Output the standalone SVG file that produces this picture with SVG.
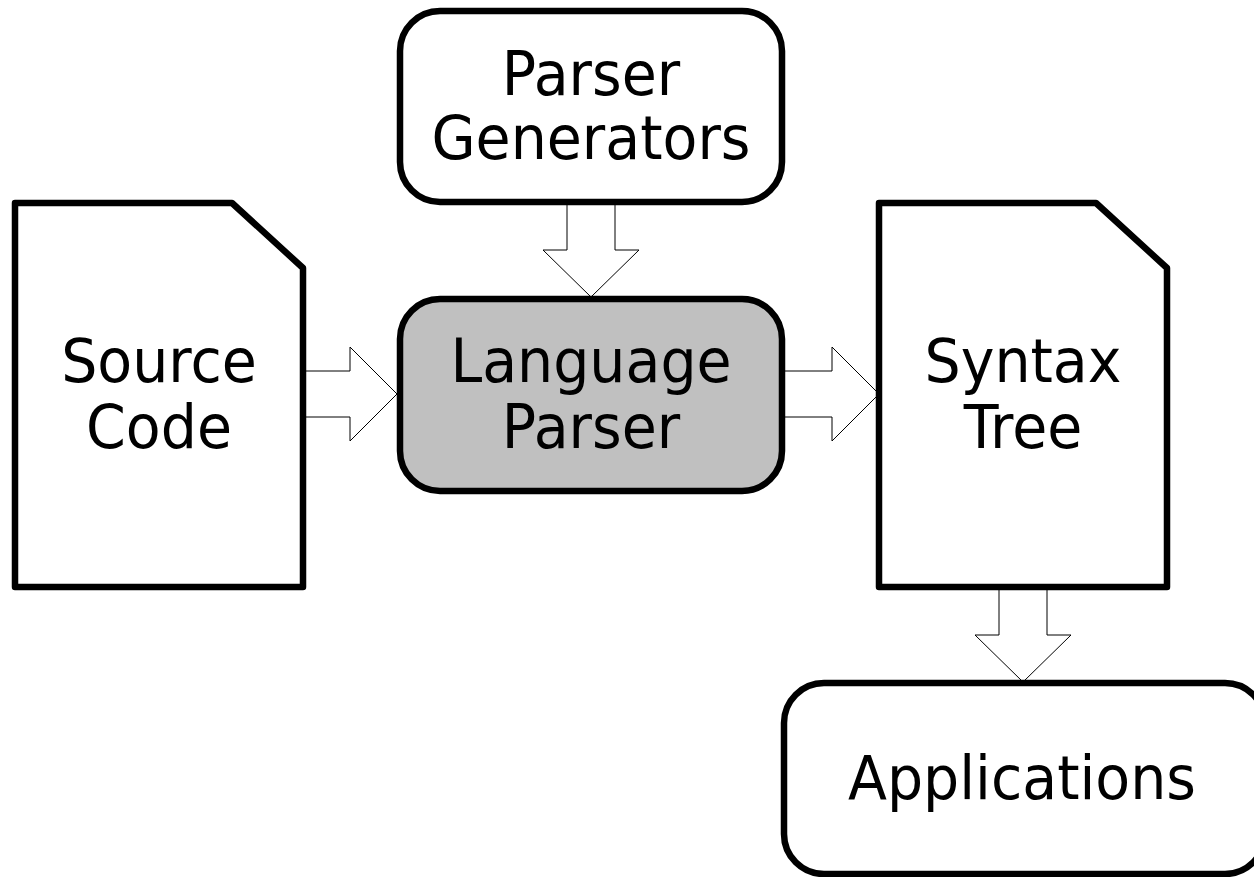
<svg xmlns="http://www.w3.org/2000/svg" width="1254" height="877" viewBox="0 0 1254 877">
<style>
.node{fill:#fff;stroke:#000;stroke-width:6.5;stroke-linejoin:round}
.gray{fill:#c0c0c0}
.arrow{fill:#fff;stroke:#000;stroke-width:1}
text{font-family:"DejaVu Sans",sans-serif;font-size:57px;fill:#000;text-anchor:middle}
</style>
<rect width="1254" height="877" fill="#fff"/>
<g id="connectors">
<path class="arrow" d="M567,204 V250 H543 L591,297 L639,250 H615 V204"/>
<path class="arrow" d="M303,371 H350 V347 L397,394 L350,441 V417 H303"/>
<path class="arrow" d="M785,371 H832 V347 L879,394 L832,441 V417 H785"/>
<path class="arrow" d="M999,587 V635 H975 L1023,682 L1071,635 H1047 V587"/>
</g>
<g id="parser-generators">
<rect class="node" x="400" y="11" width="382" height="191" rx="40"/>
<text transform="translate(591,95) scale(1,1.07)">Parser</text>
<text transform="translate(591,159) scale(1,1.07)">Generators</text>
</g>
<g id="language-parser">
<rect class="node gray" x="400" y="299" width="382" height="192" rx="40"/>
<text transform="translate(591,382) scale(1,1.07)">Language</text>
<text transform="translate(591,448) scale(1,1.07)">Parser</text>
</g>
<g id="source-code">
<path class="node" d="M15,203 H232 L303,268 V587 H15 Z"/>
<text transform="translate(159,382) scale(1,1.07)">Source</text>
<text transform="translate(159,448) scale(1,1.07)">Code</text>
</g>
<g id="syntax-tree">
<path class="node" d="M879,203 H1096 L1167,268 V587 H879 Z"/>
<text transform="translate(1023,382) scale(1,1.07)">Syntax</text>
<text transform="translate(1023,448) scale(1,1.07)">Tree</text>
</g>
<g id="applications">
<rect class="node" x="784" y="683" width="481" height="191" rx="40"/>
<text transform="translate(1022,799) scale(1,1.07)">Applications</text>
</g>
</svg>
